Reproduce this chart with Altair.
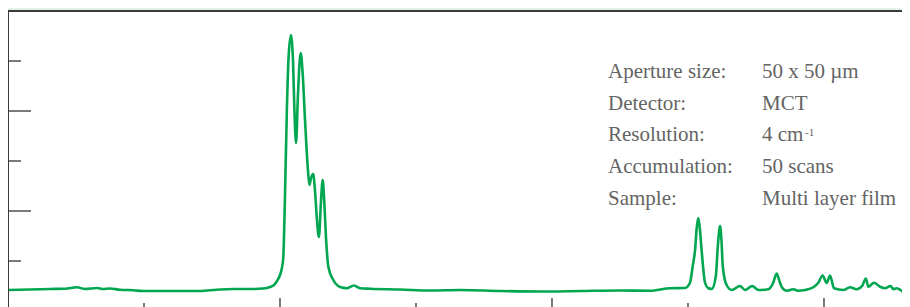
import altair as alt
import pandas as pd

# IR spectrum (wavenumber in cm-1, absorbance)
wavenumber = [4000, 3919, 3846, 3790, 3746, 3717, 3673, 3651, 3625, 3588, 3540, 3504,
              3415, 3294, 3232, 3173, 3099, 3062, 3037, 3022, 3011, 3000, 2993, 2988,
              2982, 2975, 2969, 2960, 2952, 2947, 2941, 2934, 2924, 2917, 2908, 2898,
              2892, 2886, 2878, 2871, 2864, 2857, 2849, 2843, 2837, 2831, 2822, 2804,
              2779, 2755, 2728, 2706, 2669, 2559, 2449, 2338, 2191, 2044, 1897, 1750,
              1640, 1566, 1511, 1493, 1482, 1474, 1468, 1462, 1456, 1450, 1437, 1426,
              1413, 1398, 1390, 1382, 1377, 1372, 1358, 1339, 1309, 1290, 1264, 1241,
              1205, 1187, 1174, 1165, 1155, 1137, 1113, 1094, 1070, 1039, 1021, 1005,
              990, 978, 963, 929, 904, 880, 860, 846, 837, 816, 794, 776,
              755, 745, 733, 714, 702, 690, 680]
absorbance = [0.084, 0.086, 0.088, 0.089, 0.095, 0.088, 0.092, 0.088, 0.090, 0.085, 0.083, 0.080,
              0.080, 0.080, 0.085, 0.088, 0.088, 0.090, 0.096, 0.104, 0.120, 0.144, 0.172, 0.212,
              0.444, 0.792, 1.004, 1.104, 0.996, 0.804, 0.672, 0.864, 1.032, 0.956, 0.764, 0.576,
              0.504, 0.532, 0.548, 0.476, 0.364, 0.296, 0.444, 0.524, 0.432, 0.296, 0.176, 0.124,
              0.096, 0.091, 0.102, 0.091, 0.089, 0.086, 0.082, 0.084, 0.080, 0.078, 0.080, 0.082,
              0.081, 0.091, 0.092, 0.112, 0.184, 0.244, 0.332, 0.372, 0.324, 0.244, 0.112, 0.092,
              0.088, 0.136, 0.264, 0.340, 0.284, 0.177, 0.104, 0.084, 0.100, 0.084, 0.100, 0.084,
              0.087, 0.112, 0.150, 0.124, 0.095, 0.081, 0.087, 0.081, 0.084, 0.095, 0.113, 0.142,
              0.112, 0.142, 0.091, 0.084, 0.095, 0.087, 0.100, 0.130, 0.097, 0.113, 0.097, 0.091,
              0.100, 0.087, 0.091, 0.081, 0.074, 0.124, 0.172]

x_major_ticks = [3000, 2000, 1000]
x_minor_ticks = [3500, 2500, 1500]
y_major_ticks = [0.4, 0.8]
y_minor_ticks = [0.2, 0.6, 1.0]

info_labels = ["Aperture size:", "Detector:", "Resolution:", "Accumulation:", "Sample:"]
info_values = ["50 x 50 µm", "MCT", "4 cm", "50 scans", "Multi layer film"]
resolution_sup = "-1"

PLOT_W = 894
PLOT_H = 300
GREEN = "#00a650"
TICK = "#333333"
FRAME = "#3a3a3a"
TEXT = "#646464"
FONT = "Liberation Serif"

xs = alt.Scale(domain=[713.2, 4000], reverse=True, nice=False, zero=False)
ys = alt.Scale(domain=[0, 1.2], nice=False, zero=False)

df = pd.DataFrame({"wn": wavenumber, "a": absorbance})

line = alt.Chart(df).mark_line(color=GREEN, strokeWidth=2.6, clip=True,
                               interpolate="monotone").encode(
    x=alt.X("wn:Q", scale=xs, axis=None),
    y=alt.Y("a:Q", scale=ys, axis=None),
)

def xticks(vals, length):
    return alt.Chart(pd.DataFrame({"wn": vals})).mark_rule(color=TICK, strokeWidth=1.3).encode(
        x=alt.X("wn:Q", scale=xs, axis=None),
        y=alt.value(PLOT_H),
        y2=alt.value(PLOT_H - length),
    )

def yticks(vals, length):
    return alt.Chart(pd.DataFrame({"a": vals})).mark_rule(color=TICK, strokeWidth=1.3).encode(
        y=alt.Y("a:Q", scale=ys, axis=None),
        x=alt.value(0),
        x2=alt.value(length),
    )

# frame: top and left edges only (right and bottom lie outside the window)
top_edge = alt.Chart(pd.DataFrame({"k": [0]})).mark_rule(color=FRAME, strokeWidth=2).encode(
    x=alt.value(0), x2=alt.value(PLOT_W), y=alt.value(0))
left_edge = alt.Chart(pd.DataFrame({"k": [0]})).mark_rule(color=FRAME, strokeWidth=2).encode(
    x=alt.value(0), y=alt.value(0), y2=alt.value(PLOT_H))

layers = [line, xticks(x_major_ticks, 13), xticks(x_minor_ticks, 8),
          yticks(y_major_ticks, 23), yticks(y_minor_ticks, 13), top_edge, left_edge]

baselines = [66.7, 98.5, 130.3, 162.1, 194]
for lab, val, yb in zip(info_labels, info_values, baselines):
    d = pd.DataFrame({"lab": [lab], "val": [val]})
    layers.append(alt.Chart(d).mark_text(align="left", baseline="alphabetic", font=FONT,
                                         fontSize=21, color=TEXT).encode(
        x=alt.value(600), y=alt.value(yb), text="lab:N"))
    layers.append(alt.Chart(d).mark_text(align="left", baseline="alphabetic", font=FONT,
                                         fontSize=21, color=TEXT).encode(
        x=alt.value(754), y=alt.value(yb), text="val:N"))

layers.append(alt.Chart(pd.DataFrame({"s": [resolution_sup]})).mark_text(
    align="left", baseline="alphabetic", font=FONT, fontSize=11, color=TEXT).encode(
    x=alt.value(797), y=alt.value(125), text="s:N"))

chart = alt.layer(*layers).properties(
    width=PLOT_W, height=PLOT_H,
    padding={"left": 0, "top": 3, "right": 0, "bottom": 0},
    autosize=alt.AutoSizeParams(type="none"),
    background="#e2f2e6",
).configure_view(strokeWidth=0, fill="white")

chart.save("out.html", embed_options={"renderer": "svg", "actions": False})
